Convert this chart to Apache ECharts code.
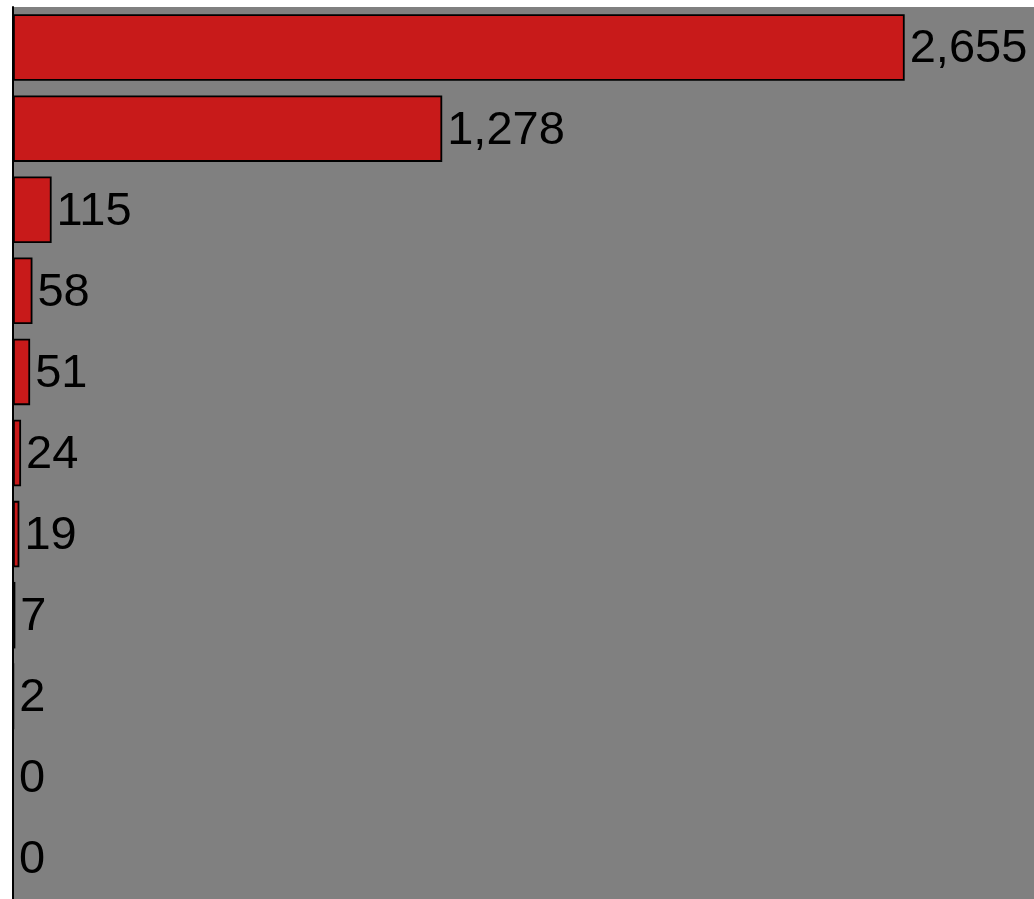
<!DOCTYPE html>
<html>
<head>
<meta charset="utf-8">
<script src="https://cdn.jsdelivr.net/npm/echarts@6/dist/echarts.min.js"></script>
<style>
html,body{margin:0;padding:0;background:#ffffff;}
#chart{width:1034px;height:899px;}
</style>
</head>
<body>
<div id="chart"></div>
<script>
const categories = ["Cat 1","Cat 2","Cat 3","Cat 4","Cat 5","Cat 6","Cat 7","Cat 8","Cat 9","Cat 10","Cat 11"];
const values = [2655, 1278, 115, 58, 51, 24, 19, 7, 2, 0, 0];

const chart = echarts.init(document.getElementById('chart'), null, {renderer: 'canvas'});
chart.setOption({
  animation: false,
  backgroundColor: '#ffffff',
  grid: {
    left: 13, right: 0, top: 7, bottom: 0,
    show: true, backgroundColor: '#808080', borderWidth: 0,
    containLabel: false
  },
  xAxis: {
    type: 'value',
    min: 0, max: 3040,
    show: false,
    splitLine: {show: false}
  },
  yAxis: {
    type: 'category',
    data: categories,
    inverse: true,
    axisLine: {show: true, lineStyle: {color: '#000000', width: 2}},
    axisTick: {show: false},
    axisLabel: {show: false},
    splitLine: {show: false}
  },
  series: [{
    type: 'bar',
    data: values,
    barCategoryGap: '18%',
    itemStyle: {color: '#c81a1a', borderColor: '#000000', borderWidth: 1.8},
    label: {
      show: true,
      position: 'right',
      distance: 5,
      offset: [0, 2],
      color: '#000000',
      fontFamily: 'Liberation Sans, Arial, sans-serif',
      fontSize: 47,
      formatter: p => Number(p.value).toLocaleString('en-US')
    }
  }]
});
</script>
</body>
</html>
